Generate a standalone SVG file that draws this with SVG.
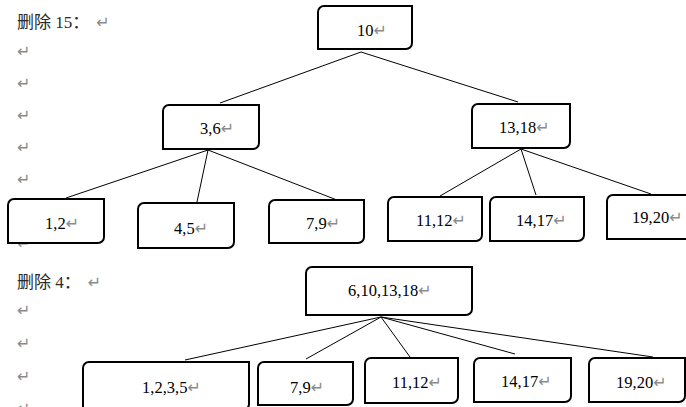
<svg xmlns="http://www.w3.org/2000/svg" width="686" height="407" viewBox="0 0 686 407">
<style>
.box{fill:#fff;stroke:#000;stroke-width:2}
.num{font-family:"Liberation Serif","Times New Roman","DejaVu Serif",serif;font-size:16.5px;fill:#000}
.lbl{font-family:"Liberation Serif","Noto Sans CJK SC",serif;font-size:17px;fill:#2a2a2a}
.ret{font-family:"DejaVu Sans",sans-serif;font-size:16px;fill:#8a8a8a}
#connectors line{stroke:#000;stroke-width:1}
</style>
<rect width="686" height="407" fill="#fff"/>
<g id="margin">
<text class="lbl" x="17" y="28">删除 15：<tspan class="ret" dx="7">↵</tspan></text>
<text class="ret" x="17" y="57">↵</text>
<text class="ret" x="17" y="89">↵</text>
<text class="ret" x="17" y="121">↵</text>
<text class="ret" x="17" y="153">↵</text>
<text class="ret" x="17" y="185">↵</text>
<text class="ret" x="17" y="217">↵</text>
<text class="ret" x="17" y="249">↵</text>
<text class="lbl" x="17" y="288">删除 4：<tspan class="ret" dx="7">↵</tspan></text>
<text class="ret" x="17" y="316">↵</text>
<text class="ret" x="17" y="349">↵</text>
<text class="ret" x="17" y="382">↵</text>
<text class="ret" x="17" y="414">↵</text>
</g>
<g id="connectors">
<line x1="361" y1="52" x2="220" y2="103"/>
<line x1="361" y1="52" x2="518" y2="102"/>
<line x1="208" y1="150" x2="66" y2="198"/>
<line x1="208" y1="150" x2="197" y2="202"/>
<line x1="208" y1="150" x2="337" y2="200"/>
<line x1="521" y1="149" x2="440" y2="196"/>
<line x1="521" y1="149" x2="536" y2="195"/>
<line x1="521" y1="149" x2="651" y2="194"/>
<line x1="381" y1="317" x2="185" y2="360"/>
<line x1="381" y1="317" x2="306" y2="359"/>
<line x1="381" y1="317" x2="410" y2="357"/>
<line x1="381" y1="317" x2="515" y2="354"/>
<line x1="381" y1="317" x2="653" y2="357"/>
</g>
<g id="n10"><path class="box" d="M324 6H412V43A6 6 0 0 1 406 49H318V12A6 6 0 0 1 324 6Z"/><text class="num" x="357" y="36">10<tspan class="ret">↵</tspan></text></g>
<g id="n3_6"><path class="box" d="M169 105H259V143A6 6 0 0 1 253 149H163V111A6 6 0 0 1 169 105Z"/><text class="num" x="200" y="134">3,6<tspan class="ret">↵</tspan></text></g>
<g id="n13_18"><path class="box" d="M478 104H570V142A6 6 0 0 1 564 148H472V110A6 6 0 0 1 478 104Z"/><text class="num" x="499" y="133">13,18<tspan class="ret">↵</tspan></text></g>
<g id="n1_2"><path class="box" d="M14 199H104V237A6 6 0 0 1 98 243H8V205A6 6 0 0 1 14 199Z"/><text class="num" x="45" y="229">1,2<tspan class="ret">↵</tspan></text></g>
<g id="n4_5"><path class="box" d="M144 203H234V242A6 6 0 0 1 228 248H138V209A6 6 0 0 1 144 203Z"/><text class="num" x="174" y="234">4,5<tspan class="ret">↵</tspan></text></g>
<g id="n7_9"><path class="box" d="M275 200H364V237A6 6 0 0 1 358 243H269V206A6 6 0 0 1 275 200Z"/><text class="num" x="306" y="229">7,9<tspan class="ret">↵</tspan></text></g>
<g id="n11_12"><path class="box" d="M394 197H482V235A6 6 0 0 1 476 241H388V203A6 6 0 0 1 394 197Z"/><text class="num" x="416" y="226">11,12<tspan class="ret">↵</tspan></text></g>
<g id="n14_17"><path class="box" d="M496 197H584V235A6 6 0 0 1 578 241H490V203A6 6 0 0 1 496 197Z"/><text class="num" x="516" y="226">14,17<tspan class="ret">↵</tspan></text></g>
<g id="n19_20"><path class="box" d="M613 195H703V233A6 6 0 0 1 697 239H607V201A6 6 0 0 1 613 195Z"/><text class="num" x="632" y="223">19,20<tspan class="ret">↵</tspan></text></g>
<g id="m6_10_13_18"><path class="box" d="M312 267H472V309A6 6 0 0 1 466 315H306V273A6 6 0 0 1 312 267Z"/><text class="num" x="348" y="296">6,10,13,18<tspan class="ret">↵</tspan></text></g>
<g id="m1_2_3_5"><path class="box" d="M89 362H249V404A6 6 0 0 1 243 410H83V368A6 6 0 0 1 89 362Z"/><text class="num" x="142" y="393">1,2,3,5<tspan class="ret">↵</tspan></text></g>
<g id="m7_9"><path class="box" d="M264 362H353V399A6 6 0 0 1 347 405H258V368A6 6 0 0 1 264 362Z"/><text class="num" x="290" y="393">7,9<tspan class="ret">↵</tspan></text></g>
<g id="m11_12"><path class="box" d="M371 358H458V397A6 6 0 0 1 452 403H365V364A6 6 0 0 1 371 358Z"/><text class="num" x="392" y="388">11,12<tspan class="ret">↵</tspan></text></g>
<g id="m14_17"><path class="box" d="M480 358H571V396A6 6 0 0 1 565 402H474V364A6 6 0 0 1 480 358Z"/><text class="num" x="501" y="387">14,17<tspan class="ret">↵</tspan></text></g>
<g id="m19_20"><path class="box" d="M595 358H685V396A6 6 0 0 1 679 402H589V364A6 6 0 0 1 595 358Z"/><text class="num" x="616" y="388">19,20<tspan class="ret">↵</tspan></text></g>
</svg>
